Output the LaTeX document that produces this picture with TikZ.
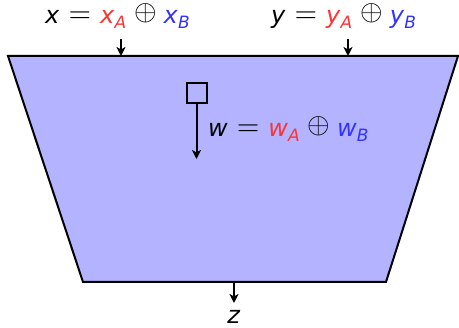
\documentclass[tikz,border=0pt]{standalone}
\usepackage{fontspec}
\setmainfont{DejaVu Sans}
\usetikzlibrary{arrows.meta}
\definecolor{fillb}{HTML}{B3B3FF}
\definecolor{myred}{HTML}{FF3333}
\definecolor{myblue}{HTML}{3333FF}
\newcommand{\vv}[1]{\textit{#1}}
\newcommand{\sbs}[1]{\raisebox{-4.3pt}{\fontsize{17}{17}\selectfont\textit{#1}}}
\newcommand{\meq}{\hspace{9pt}\raisebox{1pt}{\scalebox{2.9}{\fontsize{10}{12}\selectfont$=$}}\hspace{9pt}}
\newcommand{\opl}{\hspace{8pt}\raisebox{3pt}{\scalebox{2.9}{\fontsize{10}{12}\selectfont$\oplus$}}\hspace{7pt}}
\newcommand{\xorlbl}[1]{\vv{#1}\meq\textcolor{myred}{\vv{#1}\sbs{A}}\opl\textcolor{myblue}{\vv{#1}\sbs{B}}}
\tikzset{
  lbl/.style={anchor=base west, inner sep=0pt, font=\fontsize{24}{24}\selectfont},
  arr/.style={line width=2pt, -{Stealth[length=9pt,width=9pt,inset=2.5pt]}},
}
\begin{document}
\begin{tikzpicture}[x=1pt,y=-1pt]
\useasboundingbox (0,0) rectangle (459,328);
\draw[line width=2pt, fill=fillb] (8,56) -- (458,56) -- (386,282) -- (83,282) -- cycle;
\node[lbl] (xl) at (45,24) {\xorlbl{x}};
\node[lbl] (yl) at (271,24) {\xorlbl{y}};
\node[lbl] (wl) at (208,137) {\xorlbl{w}};
\node[lbl, anchor=base] (zl) at (234,324) {\vv{z}};
\coordinate (xa) at (121,39);
\coordinate (xb) at (121,56);
\coordinate (ya) at (348,39);
\coordinate (yb) at (348,56);
\node[draw, line width=2pt, minimum size=20pt, inner sep=0pt] (sq) at (196.5,93) {};
\coordinate (wb) at (196.5,159);
\coordinate (za) at (234,282);
\coordinate (zb) at (234,303);
\draw[arr] (xa) -- (xb);
\draw[arr] (ya) -- (yb);
\draw[arr] (sq.south) -- (wb);
\draw[arr] (za) -- (zb);
\end{tikzpicture}
\end{document}
